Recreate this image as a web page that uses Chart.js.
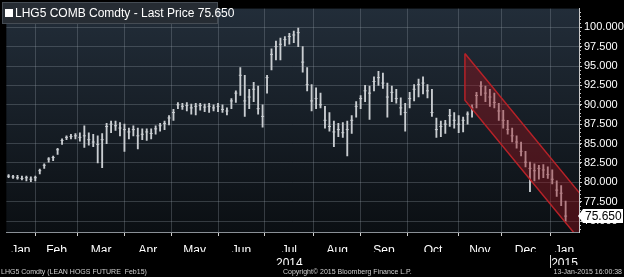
<!DOCTYPE html>
<html>
<head>
<meta charset="utf-8">
<script src="https://cdn.jsdelivr.net/npm/chart.js@4.4.1/dist/chart.umd.min.js"></script>
<style>
  html, body { margin: 0; padding: 0; background: #000; }
  #wrap { width: 624px; height: 277px; }
</style>
</head>
<body>
<div id="wrap"><canvas id="chart" width="624" height="277"></canvas></div>
<script>
// LHG5 lean hogs, one bar per two sessions, 14-Jan-2014 .. 13-Jan-2015
var highs = [81.0, 80.9, 80.9, 80.8, 80.8, 80.7, 80.8,
  81.7, 82.4, 83.2, 83.4, 84.4, 85.6, 86.0, 86.2, 86.3,
  86.4, 87.3, 86.4, 86.2, 86.0, 86.3, 87.6, 87.9, 87.9, 87.7, 87.5,
  87.0, 87.3, 87.0, 86.9, 86.9, 86.9, 87.3, 87.6, 87.9, 88.6, 89.4,
  90.3, 90.2, 90.3, 90.1, 90.2, 90.2, 90.1, 90.2, 90.0, 90.2, 90.0, 89.6, 90.8,
  91.8, 94.8, 93.8, 92.0, 92.9, 92.4, 90.0,
  93.8, 97.2, 98.2, 98.6, 98.8, 99.2, 99.5, 99.9, 97.5, 94.8, 92.6,
  92.2, 91.5, 89.8, 89.0, 87.9, 87.6, 87.7, 87.9, 88.6, 90.4,
  91.2, 92.5, 92.4, 93.6, 94.3, 94.1, 92.8, 92.4, 92.0, 90.9, 90.2,
  91.6, 92.6, 93.3, 93.6, 92.6, 92.0, 88.3, 87.9, 88.0, 89.4, 89.0,
  88.6, 88.4, 89.1, 90.0, 91.6, 93.0, 92.4, 92.0, 91.5, 90.2,
  89.3, 88.0, 87.0, 86.0, 85.2, 84.0, 82.6, 82.4, 82.2, 82.3, 82.0,
  81.6, 80.2, 79.6, 77.6];
var lows = [80.6, 80.5, 80.4, 80.3, 80.2, 80.1, 80.2,
  81.1, 81.8, 82.6, 82.8, 83.6, 84.9, 85.5, 85.6, 85.6,
  85.3, 84.5, 84.8, 84.6, 82.5, 81.9, 85.0, 86.4, 86.7, 86.0, 84.0,
  85.6, 86.0, 84.3, 85.5, 85.4, 85.6, 86.2, 86.6, 86.8, 87.4, 88.0,
  89.5, 89.4, 89.2, 88.8, 88.7, 89.3, 89.1, 89.0, 89.2, 89.1, 89.0, 88.7, 89.5,
  90.3, 91.2, 88.5, 89.5, 90.4, 88.8, 87.1,
  91.5, 94.5, 95.8, 95.8, 97.6, 97.8, 98.0, 97.5, 94.2, 91.8, 89.2,
  89.5, 89.6, 87.0, 86.6, 84.6, 85.9, 85.8, 83.4, 86.3, 88.4,
  89.5, 90.4, 88.1, 91.8, 92.5, 92.1, 88.4, 90.4, 90.2, 88.7, 86.6,
  89.6, 90.5, 91.0, 91.4, 90.9, 88.5, 85.8, 85.9, 86.3, 87.2, 87.0,
  86.4, 86.5, 87.5, 88.4, 89.6, 91.2, 90.4, 89.8, 89.6, 88.0,
  87.0, 86.2, 85.2, 84.4, 83.4, 82.0, 78.8, 80.2, 80.4, 80.6, 80.5,
  79.8, 78.2, 77.0, 75.0];
var closes = [80.8, 80.7, 80.6, 80.5, 80.6, 80.4, 80.6,
  81.5, 82.2, 83.0, 83.2, 84.2, 85.4, 85.8, 85.9, 86.0,
  85.8, 86.0, 85.5, 85.2, 84.9, 85.5, 87.2, 87.5, 87.3, 87.0, 86.8,
  86.5, 86.8, 86.0, 86.2, 86.5, 86.3, 86.9, 87.3, 87.6, 88.3, 89.0,
  90.0, 89.8, 89.9, 89.6, 89.8, 89.9, 89.7, 89.8, 89.6, 89.8, 89.4, 89.2, 90.5,
  91.5, 93.8, 90.5, 91.0, 92.0, 89.5, 88.5,
  93.5, 96.5, 97.5, 97.8, 98.4, 98.8, 99.0, 99.3, 95.5, 92.6, 90.5,
  90.8, 90.0, 88.0, 87.2, 86.5, 86.8, 86.4, 86.8, 88.0, 89.8,
  90.8, 91.8, 91.5, 93.0, 93.5, 92.8, 91.0, 91.6, 90.8, 89.6, 89.0,
  90.8, 92.0, 92.6, 92.8, 91.8, 89.0, 86.8, 87.2, 87.5, 88.6, 88.0,
  87.5, 88.0, 88.8, 89.6, 91.2, 92.4, 91.5, 91.0, 90.3, 89.2,
  88.0, 86.8, 86.0, 85.2, 84.0, 82.6, 81.8, 81.5, 81.8, 81.6, 81.0,
  80.4, 79.0, 78.6, 75.65];

var months = ['Jan', 'Feb', 'Mar', 'Apr', 'May', 'Jun', 'Jul', 'Aug', 'Sep', 'Oct', 'Nov', 'Dec', 'Jan'];
var monthStarts = [0, 13, 32, 53, 74, 95, 116, 138, 159, 180, 203, 222, 244]; // session index
var lastDay = 257;
var years = ['2014', '2015'];
var yearMonth = [6, 12]; // year label sits under these months
var yTicks = [75, 77.5, 80, 82.5, 85, 87.5, 90, 92.5, 95, 97.5, 100];
var lastPrice = 75.65;

// trend channel drawn on the chart (session index, price)
var channelX = [205.8, 257.3];
var channelTop = [96.6, 78.6];
var channelBottom = [90.6, 72.6];

var days = [];
for (var i = 0; i < highs.length; i++) days.push(1 + 2 * i);

var monthMid = [];
for (var m = 0; m < monthStarts.length; m++) {
  var end = m + 1 < monthStarts.length ? monthStarts[m + 1] : lastDay;
  monthMid.push((monthStarts[m] + end) / 2);
}

var barData = days.map(function (d, i) { return { x: d, y: [lows[i], highs[i]] }; });
var closeData = days.map(function (d, i) { return { x: d, y: closes[i] }; });
var channelData = [
  { x: channelX[0], y: channelTop[0] },
  { x: channelX[1], y: channelTop[1] },
  { x: channelX[1], y: channelBottom[1] },
  { x: channelX[0], y: channelBottom[0] },
  { x: channelX[0], y: channelTop[0] }
];

var FONT = 'Liberation Sans, Arial, sans-serif';

var decor = {
  id: 'decor',
  beforeDraw: function (chart) {
    var ctx = chart.ctx, a = chart.chartArea;
    ctx.save();
    ctx.fillStyle = '#000';
    ctx.fillRect(0, 0, chart.width, chart.height);
    var g = ctx.createLinearGradient(0, a.top, 0, a.bottom);
    g.addColorStop(0, '#222d39');
    g.addColorStop(1, '#0b0f13');
    ctx.fillStyle = g;
    ctx.fillRect(a.left, a.top, a.right - a.left, a.bottom - a.top);
    ctx.restore();
  },
  afterDraw: function (chart) {
    var ctx = chart.ctx, a = chart.chartArea, y = chart.scales.y;
    ctx.save();
    // minor ticks on the price axis
    ctx.strokeStyle = '#c8c8c8';
    ctx.lineWidth = 1;
    for (var v = 74; v <= 102; v += 0.5) {
      var py = Math.round(y.getPixelForValue(v)) + 0.5;
      ctx.beginPath();
      ctx.moveTo(a.right, py);
      ctx.lineTo(a.right + 2, py);
      ctx.stroke();
    }
    // title box
    ctx.fillStyle = '#262c33';
    ctx.fillRect(2, 2, 216, 22);
    ctx.strokeStyle = '#454c54';
    ctx.strokeRect(2.5, 2.5, 215, 21);
    ctx.fillStyle = '#fff';
    ctx.fillRect(5, 9, 8, 8);
    ctx.font = '12px ' + FONT;
    ctx.textBaseline = 'middle';
    ctx.fillText('LHG5 COMB Comdty - Last Price ' + lastPrice.toFixed(3), 15, 13.5);
    // last price flag
    var ly = y.getPixelForValue(lastPrice);
    ctx.fillStyle = '#fff';
    ctx.beginPath();
    ctx.moveTo(a.right - 1, ly);
    ctx.lineTo(a.right + 4, ly - 7);
    ctx.lineTo(623, ly - 7);
    ctx.lineTo(623, ly + 7);
    ctx.lineTo(a.right + 4, ly + 7);
    ctx.closePath();
    ctx.fill();
    ctx.fillStyle = '#000';
    ctx.font = '12px ' + FONT;
    ctx.fillText(lastPrice.toFixed(3), a.right + 6, ly + 0.5);
    // year separator
    var xs = chart.scales.x;
    ctx.strokeStyle = '#d8d8d8';
    var sx = Math.round(xs.getPixelForValue(monthStarts[12])) + 0.5;
    ctx.beginPath();
    ctx.moveTo(sx, 255);
    ctx.lineTo(sx, 268);
    ctx.stroke();
    // footer
    ctx.font = '7px ' + FONT;
    ctx.fillStyle = '#d0d0d0';
    ctx.textBaseline = 'middle';
    ctx.textAlign = 'left';
    ctx.fillText('LHG5 Comdty (LEAN HOGS FUTURE  Feb15)', 1, 272);
    ctx.fillText('Copyright\u00a9 2015 Bloomberg Finance L.P.', 283, 272);
    ctx.textAlign = 'right';
    ctx.fillText('13-Jan-2015 16:00:38', 622, 272);
    ctx.restore();
  }
};

new Chart(document.getElementById('chart').getContext('2d'), {
  type: 'bar',
  data: {
    datasets: [
      {
        type: 'line',
        data: channelData,
        xAxisID: 'x',
        borderColor: '#b52228',
        borderWidth: 1.5,
        backgroundColor: 'rgba(150,20,28,0.42)',
        fill: 'shape',
        pointRadius: 0,
        tension: 0,
        order: 0
      },
      {
        type: 'line',
        data: closeData,
        xAxisID: 'x',
        showLine: false,
        pointStyle: 'line',
        pointRadius: 1.5,
        pointBorderWidth: 1,
        borderColor: '#c9cdd1',
        order: 1
      },
      {
        data: barData,
        xAxisID: 'x',
        backgroundColor: '#c9cdd1',
        barThickness: 1.2,
        order: 2
      }
    ]
  },
  options: {
    responsive: false,
    animation: false,
    layout: { padding: { left: 0, right: 0, top: 0, bottom: 12 } },
    plugins: { legend: { display: false }, tooltip: { enabled: false } },
    scales: {
      xg: {
        type: 'linear', position: 'bottom', min: 0, max: lastDay, weight: 0, offset: false,
        afterBuildTicks: function (s) { s.ticks = monthStarts.slice(1).map(function (v) { return { value: v }; }); },
        afterFit: function (s) { s.height = 0; },
        ticks: { display: false },
        grid: { offset: false, color: 'rgba(150,160,170,0.3)', tickColor: '#d0d0d0', tickLength: 4 },
        border: { display: true, color: '#8a9096' }
      },
      x: {
        type: 'linear', position: 'bottom', min: 0, max: lastDay, weight: 1, offset: false,
        afterBuildTicks: function (s) { s.ticks = monthMid.map(function (v) { return { value: v }; }); },
        afterFit: function (s) { s.height = 20; },
        ticks: {
          color: '#fff', font: { family: FONT, size: 12 }, padding: 11,
          maxRotation: 0, autoSkip: false,
          callback: function (v, i) { return months[i]; }
        },
        grid: { display: false, drawTicks: false, offset: false },
        border: { display: false }
      },
      xy: {
        type: 'linear', position: 'bottom', min: 0, max: lastDay, weight: 2, offset: false,
        afterBuildTicks: function (s) { s.ticks = yearMonth.map(function (m) { return { value: monthMid[m] }; }); },
        afterFit: function (s) { s.height = 13; },
        ticks: {
          color: '#fff', font: { family: FONT, size: 12 }, padding: 4,
          maxRotation: 0, autoSkip: false,
          callback: function (v, i) { return years[i]; }
        },
        grid: { display: false, drawTicks: false, offset: false },
        border: { display: false }
      },
      y: {
        position: 'right', min: 73.6, max: 102.4,
        afterBuildTicks: function (s) { s.ticks = yTicks.map(function (v) { return { value: v }; }); },
        afterFit: function (s) { s.width = 45; },
        ticks: {
          color: '#fff', font: { family: FONT, size: 11 }, padding: 2,
          callback: function (v) { return v.toFixed(3); }
        },
        grid: { color: 'rgba(150,160,170,0.3)', tickColor: '#d0d0d0', tickLength: 3 },
        border: { display: true, color: '#c8c8c8' }
      }
    }
  },
  plugins: [decor]
});
</script>
</body>
</html>
